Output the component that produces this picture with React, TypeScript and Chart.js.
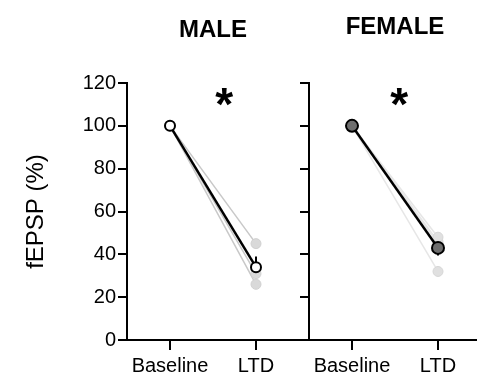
import React, { useEffect, useRef } from 'react';
import { Chart, registerables } from 'chart.js';

Chart.register(...registerables);

const FONT = '"Liberation Sans", Arial, Helvetica, sans-serif';

// ---- data ----
const categories = ['Baseline', 'LTD'];
const yTickValues = [0, 20, 40, 60, 80, 100, 120];
const maleBaseline = [100, 100, 100];
const maleLTD = [45, 31, 26];
const maleMean = [100, 34];
const maleSem = [0, 5];
const femaleBaseline = [100, 100, 100, 100];
const femaleLTD = [48, 46, 45, 32];
const femaleMean = [100, 43];
const femaleSem = [0, 3.5];
const panelTitles = ['MALE', 'FEMALE'];
const yAxisLabel = 'fEPSP (%)';
const significance = '*';

const annotatePlugin = {
  id: 'annotate',
  beforeDatasetsDraw(chart: any, _args: any, opts: any) {
    const { ctx, scales } = chart;
    const x = scales.x;
    const y = scales.y;
    ctx.save();
    ctx.strokeStyle = '#000';
    ctx.lineWidth = 2;
    opts.mean.forEach((m: number, i: number) => {
      const s = opts.sem[i];
      if (!s) return;
      const px = x.getPixelForValue(i);
      ctx.beginPath();
      ctx.moveTo(px, y.getPixelForValue(m + s));
      ctx.lineTo(px, y.getPixelForValue(m - s));
      ctx.stroke();
    });
    ctx.restore();
  },
  afterDraw(chart: any, _args: any, opts: any) {
    const { ctx, chartArea, scales } = chart;
    const x = scales.x;
    const y = scales.y;
    ctx.save();
    ctx.fillStyle = '#000';
    ctx.font = `bold 24px ${FONT}`;
    ctx.textAlign = 'center';
    ctx.textBaseline = 'alphabetic';
    ctx.fillText(opts.title, (chartArea.left + chartArea.right) / 2, opts.titleBaseline);
    ctx.font = `bold 46px ${FONT}`;
    ctx.textAlign = 'left';
    const m = ctx.measureText(significance);
    const p0 = x.getPixelForValue(0);
    const p1 = x.getPixelForValue(1);
    const sx = p0 + (p1 - p0) * opts.starAt;
    const sy = y.getPixelForValue(opts.starY);
    ctx.fillText(
      significance,
      sx - (m.actualBoundingBoxRight - m.actualBoundingBoxLeft) / 2,
      sy + (m.actualBoundingBoxAscent - m.actualBoundingBoxDescent) / 2
    );
    if (opts.extendAxis) {
      ctx.fillRect(chartArea.right, chartArea.bottom - 1, chart.width - chartArea.right, 2);
    }
    ctx.restore();
  },
};

function makeConfig(panel: 'male' | 'female'): any {
  const isMale = panel === 'male';
  const base = isMale ? maleBaseline : femaleBaseline;
  const ltd = isMale ? maleLTD : femaleLTD;
  const mean = isMale ? maleMean : femaleMean;
  const sem = isMale ? maleSem : femaleSem;

  const individuals = base.map((b, i) => ({
    data: [b, ltd[i]],
    borderColor: isMale ? '#c8c8c8' : '#e6e6e6',
    borderWidth: 1.5,
    pointRadius: 5,
    pointBackgroundColor: isMale ? '#d9d9d9' : '#e0e0e0',
    pointBorderColor: isMale ? '#d0d0d0' : '#d6d6d6',
    pointBorderWidth: 1,
    order: 2,
  }));

  const meanDs = {
    data: mean,
    borderColor: '#000',
    borderWidth: 2.5,
    pointRadius: isMale ? 5 : 6,
    pointBackgroundColor: isMale ? '#ffffff' : '#6e6e6e',
    pointBorderColor: '#000',
    pointBorderWidth: 2,
    order: 1,
  };

  const tickGrid = {
    drawOnChartArea: false,
    drawTicks: true,
    color: '#000',
    lineWidth: 2,
  };

  return {
    type: 'line',
    data: { labels: categories, datasets: [meanDs, ...individuals] },
    plugins: [annotatePlugin],
    options: {
      animation: false,
      responsive: false,
      devicePixelRatio: 1,
      layout: { autoPadding: false, padding: { top: 83, right: isMale ? 10 : 1, left: 0, bottom: 0 } },
      plugins: {
        legend: { display: false },
        tooltip: { enabled: false },
        annotate: {
          title: isMale ? panelTitles[0] : panelTitles[1],
          titleBaseline: isMale ? 37 : 34,
          starAt: isMale ? 0.63 : 0.55,
          starY: 113.5,
          mean,
          sem,
          extendAxis: isMale,
        },
      },
      scales: {
        x: {
          type: 'category',
          offset: true,
          grid: { ...tickGrid, tickLength: 10 },
          border: { color: '#000', width: 2 },
          ticks: { color: '#000', font: { size: 20, family: FONT }, padding: 4, maxRotation: 0, autoSkip: false },
          afterFit: (s: any) => { s.height = 42; },
        },
        y: {
          min: 0,
          max: 120,
          afterBuildTicks: (s: any) => { s.ticks = yTickValues.map((v) => ({ value: v })); },
          grid: { ...tickGrid, tickLength: 9 },
          border: { color: '#000', width: 2 },
          ticks: { display: isMale, color: '#000', font: { size: 20, family: FONT }, padding: 2 },
          title: {
            display: isMale,
            text: yAxisLabel,
            color: '#000',
            font: { size: 24, family: FONT },
            padding: { top: 22, bottom: 4 },
          },
          afterFit: (s: any) => { s.width = isMale ? 127 : 9; },
        },
      },
    },
  };
}

function Panel({ panel, left, width }: { panel: 'male' | 'female'; left: number; width: number }) {
  const ref = useRef<HTMLCanvasElement | null>(null);
  useEffect(() => {
    if (!ref.current) return;
    const chart = new Chart(ref.current, makeConfig(panel));
    return () => chart.destroy();
  }, [panel]);
  return (
    <canvas
      ref={ref}
      width={width}
      height={382}
      style={{ position: 'absolute', left, top: 0, width, height: 382 }}
    />
  );
}

export default function App() {
  return (
    <div
      style={{
        position: 'fixed',
        left: 0,
        top: 0,
        width: 477,
        height: 382,
        overflow: 'hidden',
        background: '#fff',
        fontFamily: FONT,
      }}
    >
      <Panel panel="male" left={0} width={309} />
      <Panel panel="female" left={300} width={182} />
    </div>
  );
}
